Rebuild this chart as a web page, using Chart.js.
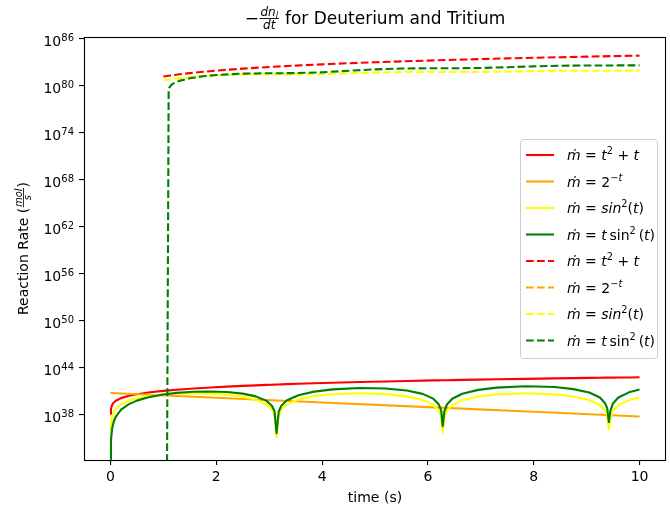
<!DOCTYPE html>
<html>
<head>
<meta charset="utf-8">
<title>Reaction rate for Deuterium and Tritium</title>
<script src="https://cdn.jsdelivr.net/npm/chart.js"></script>
<style>
  html, body { margin: 0; padding: 0; background: #fff; }
  #wrap { width: 670px; height: 508px; }
</style>
</head>
<body>
<div id="wrap"><canvas id="rate-chart"></canvas></div>
<script>
// time samples (s) for the solid curves
const tSolid = [0.002, 0.01, 0.03, 0.06, 0.1, 0.2, 0.35, 0.5, 0.75, 1.0,
  1.25, 1.57, 1.9, 2.2, 2.5, 2.75, 2.95, 3.05, 3.1, 3.14,
  3.18, 3.23, 3.33, 3.55, 3.85, 4.2, 4.71, 5.2, 5.6, 5.9,
  6.1, 6.2, 6.25, 6.28, 6.31, 6.36, 6.46, 6.65, 6.95, 7.3,
  7.85, 8.4, 8.75, 9.05, 9.25, 9.35, 9.39, 9.42, 9.45, 9.5,
  9.6, 9.8, 10.0];
const tOrange = [0, 2, 4, 6, 8, 10];
// time samples (s) for the dashed curves
const tDash = [1.0, 1.07, 1.1, 1.15, 1.2, 1.3, 1.5, 1.75, 2, 2.5, 3, 3.5, 4,
  4.5, 5, 5.5, 6, 6.5, 7, 7.5, 8, 8.5, 9, 9.5, 10];

// exponents (log10 of the rate)
const redSolidLog = [38.1, 38.77, 39.26, 39.57, 39.81, 40.15, 40.44, 40.65, 40.89, 41.07,
  41.22, 41.38, 41.51, 41.62, 41.71, 41.78, 41.84, 41.86, 41.87, 41.88,
  41.89, 41.91, 41.93, 41.98, 42.04, 42.11, 42.20, 42.28, 42.34, 42.38,
  42.41, 42.42, 42.43, 42.43, 42.43, 42.44, 42.45, 42.48, 42.51, 42.55,
  42.61, 42.67, 42.70, 42.73, 42.75, 42.76, 42.76, 42.76, 42.76, 42.77,
  42.78, 42.79, 42.81];
const orangeSolidLog = [40.8, 40.2, 39.6, 39.0, 38.4, 37.8];
const yellowSolidLog = [35.4, 36.77, 37.72, 38.33, 38.77, 39.37, 39.84, 40.13, 40.44, 40.62,
  40.72, 40.77, 40.72, 40.59, 40.32, 39.93, 39.33, 38.69, 38.01, 35.17,
  37.94, 38.66, 39.32, 39.97, 40.40, 40.65, 40.77, 40.66, 40.37, 39.92,
  39.29, 38.61, 37.81, 35.78, 37.63, 38.54, 39.26, 39.89, 40.36, 40.63,
  40.77, 40.63, 40.36, 39.90, 39.25, 38.52, 37.85, 36.13, 37.57, 38.52,
  39.25, 39.90, 40.24];
const greenSolidLog = [32.3, 34.77, 36.20, 37.10, 37.77, 38.67, 39.38, 39.83, 40.31, 40.62,
  40.82, 40.97, 41.00, 40.93, 40.72, 40.37, 39.80, 39.18, 38.50, 35.67,
  38.44, 39.17, 39.84, 40.52, 40.98, 41.27, 41.44, 41.38, 41.12, 40.69,
  40.08, 39.40, 38.61, 36.57, 38.43, 39.34, 40.07, 40.71, 41.20, 41.49,
  41.66, 41.56, 41.30, 40.86, 40.22, 39.49, 38.83, 37.10, 38.55, 39.50,
  40.23, 40.89, 41.24];

const redDashLog = [81.21, 81.28, 81.31, 81.36, 81.40, 81.49, 81.64, 81.81, 81.96, 82.21,
  82.42, 82.60, 82.76, 82.90, 83.02, 83.14, 83.24, 83.34, 83.43, 83.52,
  83.60, 83.67, 83.74, 83.81, 83.87];
const orangeDashLog = []; // not visible in the figure
const yellowDashLog = [80.80, 80.80, 80.82, 80.87, 80.91, 81.00, 81.13, 81.26, 81.36, 81.45,
  81.48, 81.48, 81.52, 81.61, 81.70, 81.76, 81.78, 81.78, 81.79, 81.83,
  81.89, 81.93, 81.95, 81.95, 81.96];
const greenDashLog = [null, 32.0, 79.69, 80.13, 80.36, 80.65, 80.98, 81.24, 81.40, 81.58,
  81.62, 81.64, 81.74, 81.94, 82.12, 82.22, 82.26, 82.26, 82.30, 82.39,
  82.50, 82.58, 82.62, 82.62, 82.63];

const xTicks = [0, 2, 4, 6, 8, 10];
const yTickExps = [38, 44, 50, 56, 62, 68, 74, 80, 86];

// legend text pieces: [text, style]  i = italic, s = superscript
const legendLabels = [
  [['ṁ', 'i'], [' = ', ''], ['t', 'i'], ['2', 's'], [' + ', ''], ['t', 'i']],
  [['ṁ', 'i'], [' = ', ''], ['2', ''], ['\u2212', 's'], ['t', 'si']],
  [['ṁ', 'i'], [' = ', ''], ['sin', 'i'], ['2', 's'], ['(', ''], ['t', 'i'], [')', '']],
  [['ṁ', 'i'], [' = ', ''], ['t', 'i'], ['\u2009sin', ''], ['2', 's'], ['\u2009(', ''], ['t', 'i'], [')', '']]
];

(function () {
  'use strict';
  const FONT = '"DejaVu Sans", "Liberation Sans", sans-serif';

  function toPoints(ts, logs) {
    return logs.map(function (e, i) {
      return { x: ts[i], y: e === null ? null : Math.pow(10, e) };
    });
  }

  function series(label, color, ts, logs, dashed, order) {
    return {
      label: label,
      data: toPoints(ts, logs),
      borderColor: color,
      backgroundColor: color,
      borderWidth: 2.1,
      borderDash: dashed ? [7.7, 3.3] : [],
      borderJoinStyle: 'round',
      pointRadius: 0,
      tension: 0,
      fill: false,
      spanGaps: false,
      order: order
    };
  }

  function drawRich(ctx, segs, x, y, size) {
    segs.forEach(function (s) {
      const sup = s[1].indexOf('s') >= 0;
      const it = s[1].indexOf('i') >= 0;
      const fs = sup ? size * 0.7 : size;
      ctx.font = (it ? 'italic ' : '') + fs + 'px ' + FONT;
      ctx.fillText(s[0], x, sup ? y - size * 0.4 : y);
      x += ctx.measureText(s[0]).width;
    });
    return x;
  }

  function drawTitle(ctx, cx) {
    const base = 24;
    const rest = ' for Deuterium and Tritium';
    ctx.font = '17px ' + FONT;
    const minusW = ctx.measureText('\u2212').width;
    const restW = ctx.measureText(rest).width;
    ctx.font = 'italic 12px ' + FONT;
    const dnW = ctx.measureText('dn').width;
    const dtW = ctx.measureText('dt').width;
    ctx.font = 'italic 8.5px ' + FONT;
    const lW = ctx.measureText('l').width;
    const numW = dnW + lW;
    const fracW = Math.max(numW, dtW) + 3;
    let x = cx - (minusW + fracW + restW) / 2;

    ctx.font = '17px ' + FONT;
    ctx.fillText('\u2212', x, base);
    x += minusW;
    ctx.fillRect(x + 0.5, 18, fracW - 1, 0.9);
    const nx = x + (fracW - numW) / 2;
    ctx.font = 'italic 12px ' + FONT;
    ctx.fillText('dn', nx, 15.5);
    ctx.fillText('dt', x + (fracW - dtW) / 2, 29);
    ctx.font = 'italic 8.5px ' + FONT;
    ctx.fillText('l', nx + dnW, 17.5);
    x += fracW;
    ctx.font = '17px ' + FONT;
    ctx.fillText(rest, x, base);
  }

  function drawYLabel(ctx, bx, cy) {
    ctx.save();
    ctx.translate(bx, cy);
    ctx.rotate(-Math.PI / 2);
    const main = 'Reaction Rate ';
    ctx.font = '14px ' + FONT;
    const mainW = ctx.measureText(main).width;
    const parW = ctx.measureText('(').width;
    ctx.font = 'italic 9.8px ' + FONT;
    const molW = ctx.measureText('mol').width;
    const sW = ctx.measureText('s').width;
    const fracW = Math.max(molW, sW) + 2;
    let x = -(mainW + 2 * parW + fracW) / 2;
    ctx.font = '14px ' + FONT;
    ctx.fillText(main, x, 0);
    x += mainW;
    ctx.fillText('(', x, 0);
    x += parW;
    ctx.fillRect(x + 0.5, -5, fracW - 1, 0.8);
    ctx.font = 'italic 9.8px ' + FONT;
    ctx.fillText('mol', x + (fracW - molW) / 2, -6.5);
    ctx.fillText('s', x + (fracW - sW) / 2, 2.5);
    x += fracW;
    ctx.font = '14px ' + FONT;
    ctx.fillText(')', x, 0);
    ctx.restore();
  }

  function drawLegend(ctx, chart) {
    const bx = 520.5, by = 139.5, bw = 137, bh = 219, r = 3;
    ctx.beginPath();
    ctx.moveTo(bx + r, by);
    ctx.lineTo(bx + bw - r, by);
    ctx.arcTo(bx + bw, by, bx + bw, by + r, r);
    ctx.lineTo(bx + bw, by + bh - r);
    ctx.arcTo(bx + bw, by + bh, bx + bw - r, by + bh, r);
    ctx.lineTo(bx + r, by + bh);
    ctx.arcTo(bx, by + bh, bx, by + bh - r, r);
    ctx.lineTo(bx, by + r);
    ctx.arcTo(bx, by, bx + r, by, r);
    ctx.closePath();
    ctx.fillStyle = 'rgba(255, 255, 255, 0.8)';
    ctx.fill();
    ctx.strokeStyle = '#cccccc';
    ctx.lineWidth = 1;
    ctx.stroke();

    chart.data.datasets.forEach(function (ds, i) {
      const cy = 155 + i * 26.5;
      ctx.beginPath();
      ctx.setLineDash(ds.borderDash);
      ctx.strokeStyle = ds.borderColor;
      ctx.lineWidth = 2.1;
      ctx.moveTo(526, cy);
      ctx.lineTo(554, cy);
      ctx.stroke();
      ctx.setLineDash([]);
      ctx.fillStyle = '#000';
      drawRich(ctx, legendLabels[i % 4], 567, cy + 5, 14);
    });
  }

  // frame, y tick labels, titles and legend
  const decorations = {
    id: 'decorations',
    afterDatasetsDraw: function (chart) {
      const ctx = chart.ctx;
      const a = chart.chartArea;
      ctx.save();
      ctx.strokeStyle = '#000';
      ctx.lineWidth = 1.1;
      ctx.strokeRect(Math.round(a.left) + 0.5, Math.round(a.top) + 0.5,
        Math.round(a.right - a.left) - 1, Math.round(a.bottom - a.top));
      ctx.restore();
    },
    afterDraw: function (chart) {
      const ctx = chart.ctx;
      const a = chart.chartArea;
      const yScale = chart.scales.y;
      ctx.save();
      ctx.fillStyle = '#000';
      ctx.textBaseline = 'alphabetic';
      ctx.textAlign = 'left';

      yTickExps.forEach(function (e) {
        const py = yScale.getPixelForValue(Math.pow(10, e));
        ctx.font = '10px ' + FONT;
        const ew = ctx.measureText(String(e)).width;
        ctx.font = '14px ' + FONT;
        const bw = ctx.measureText('10').width;
        const right = a.left - 10;
        ctx.fillText('10', right - ew - bw, py + 7);
        ctx.font = '10px ' + FONT;
        ctx.fillText(String(e), right - ew, py + 2);
      });

      drawTitle(ctx, (a.left + a.right) / 2);

      ctx.font = '14px ' + FONT;
      ctx.textAlign = 'center';
      ctx.fillText('time (s)', (a.left + a.right) / 2, 502);
      ctx.textAlign = 'left';

      drawYLabel(ctx, 28, (a.top + a.bottom) / 2);
      drawLegend(ctx, chart);
      ctx.restore();
    }
  };

  const ctx = document.getElementById('rate-chart').getContext('2d');

  new Chart(ctx, {
    type: 'line',
    data: {
      datasets: [
        series('ṁ = t² + t', 'red', tSolid, redSolidLog, false, 8),
        series('ṁ = 2⁻ᵗ', 'orange', tOrange, orangeSolidLog, false, 7),
        series('ṁ = sin²(t)', 'yellow', tSolid, yellowSolidLog, false, 6),
        series('ṁ = t sin²(t)', 'green', tSolid, greenSolidLog, false, 5),
        series('ṁ = t² + t', 'red', tDash, redDashLog, true, 4),
        series('ṁ = 2⁻ᵗ', 'orange', tDash, orangeDashLog, true, 3),
        series('ṁ = sin²(t)', 'yellow', tDash, yellowDashLog, true, 2),
        series('ṁ = t sin²(t)', 'green', tDash, greenDashLog, true, 1)
      ]
    },
    options: {
      responsive: true,
      maintainAspectRatio: false,
      animation: false,
      events: [],
      layout: {
        padding: { top: 37, right: 4, left: 0, bottom: 0 }
      },
      scales: {
        x: {
          type: 'linear',
          min: -0.5,
          max: 10.5,
          afterBuildTicks: function (scale) {
            scale.ticks = xTicks.map(function (v) { return { value: v }; });
          },
          afterFit: function (scale) {
            scale.height = 48;
          },
          ticks: {
            autoSkip: false,
            maxRotation: 0,
            padding: 4,
            color: '#000',
            font: { family: FONT, size: 14 }
          },
          grid: {
            drawOnChartArea: false,
            drawTicks: true,
            tickLength: 5,
            color: '#000',
            lineWidth: 1.1
          },
          border: { display: false }
        },
        y: {
          type: 'logarithmic',
          min: Math.pow(10, 32.25),
          max: Math.pow(10, 86.25),
          afterBuildTicks: function (scale) {
            scale.ticks = yTickExps.map(function (e) { return { value: Math.pow(10, e) }; });
          },
          afterFit: function (scale) {
            scale.width = 84;
          },
          ticks: { display: false },
          grid: {
            drawOnChartArea: false,
            drawTicks: true,
            tickLength: 5,
            color: '#000',
            lineWidth: 1.1
          },
          border: { display: false }
        }
      },
      plugins: {
        legend: { display: false },
        title: { display: false },
        tooltip: { enabled: false }
      }
    },
    plugins: [decorations]
  });
})();
</script>
</body>
</html>
